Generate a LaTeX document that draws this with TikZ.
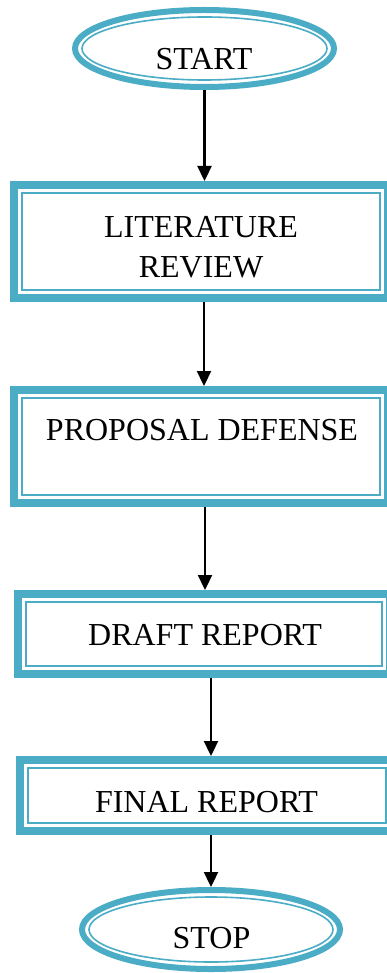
\documentclass[tikz,border=0pt]{standalone}
\usepackage{fontspec}
\setmainfont{Liberation Serif}
\usetikzlibrary{shapes.geometric,arrows.meta,calc}
\definecolor{accentC}{HTML}{4BACC6}
\begin{document}
\begin{tikzpicture}[x=1pt,y=-1pt,
  boxshape/.style={draw=accentC, line width=8pt, rectangle, inner sep=0pt},
  ovalshape/.style={draw=accentC, line width=6pt, ellipse, inner sep=0pt},
  thinline/.style={draw=accentC, line width=1.6pt},
  lbl/.style={font=\fontsize{32}{40}\selectfont, align=center, inner sep=0pt},
  arr/.style={line width=2.3pt, -{Triangle[length=15pt,width=14pt]}}]
\clip (0,0) rectangle (387,973);
\fill[white] (0,0) rectangle (387,973);
% shapes
\node[ovalshape, minimum width=259pt, minimum height=77pt] (s) at (204.5,48.5) {};
\node[boxshape, minimum width=374pt, minimum height=113pt] (b1) at (201,241.5) {};
\node[boxshape, minimum width=374pt, minimum height=113pt] (b2) at (201,446.5) {};
\node[boxshape, minimum width=372pt, minimum height=80pt] (b3) at (204,634) {};
\node[boxshape, minimum width=374pt, minimum height=71pt] (b4) at (207,795.5) {};
\node[ovalshape, minimum width=258pt, minimum height=79pt] (e) at (211,929.5) {};
% inner thin lines
\draw[thinline] (s.center) ellipse [x radius=122.5pt, y radius=31.5pt];
\draw[thinline] (e.center) ellipse [x radius=122pt, y radius=32.5pt];
\foreach \n in {b1,b2,b3,b4}{
  \draw[thinline] ([shift={(12,12)}]\n.north west) rectangle ([shift={(-12,-12)}]\n.south east);
}
% texts
\node[lbl] (ts) at (204,59.5) {START};
\node[lbl] (t1) at (201,247) {LITERATURE\\REVIEW};
\node[lbl] (t2) at (202,430) {PROPOSAL DEFENSE};
\node[lbl] (t3) at (205,635) {DRAFT REPORT};
\node[lbl] (t4) at (206.5,802) {FINAL REPORT};
\node[lbl] (te) at (211.5,938) {STOP};
% arrows
\draw[arr] (s.south) -- (s.south |- b1.north);
\draw[arr] ([xshift=3pt]b1.south) -- ([xshift=3pt]b1.south |- b2.north);
\draw[arr] ([xshift=4pt]b2.south) -- ([xshift=4pt]b2.south |- b3.north);
\draw[arr] ([xshift=7pt]b3.south) -- ([xshift=7pt]b3.south |- b4.north);
\draw[arr] ([xshift=4pt]b4.south) -- ([xshift=4pt]b4.south |- e.north);
\end{tikzpicture}
\end{document}
